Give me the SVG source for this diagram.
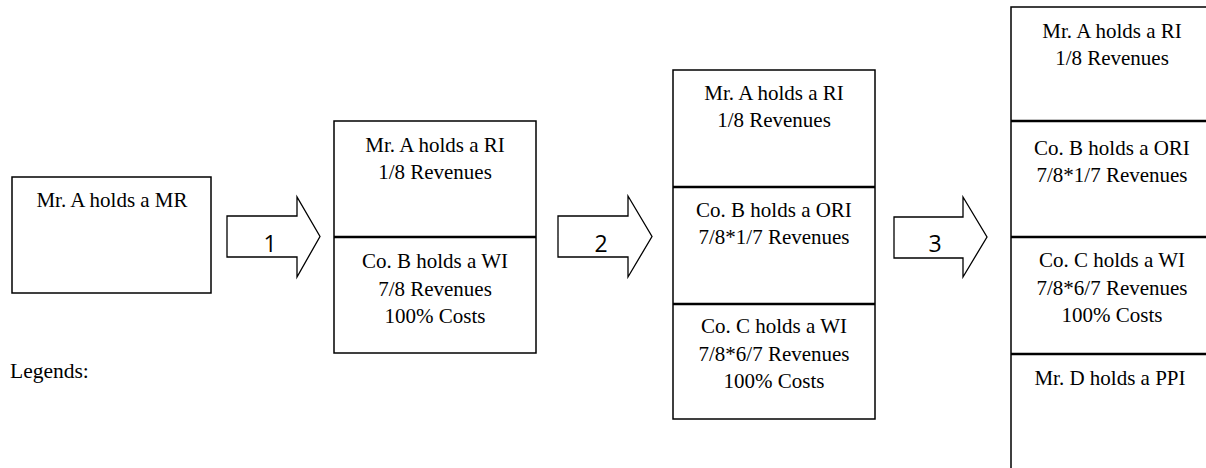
<svg xmlns="http://www.w3.org/2000/svg" width="1206" height="468" viewBox="0 0 1206 468">
  <style>
    .box { fill: #ffffff; stroke: #000000; stroke-width: 1.5; }
    .div { stroke: #000000; stroke-width: 2.5; fill: none; }
    .arrow { fill: #ffffff; stroke: #000000; stroke-width: 1.3; stroke-linejoin: miter; }
    .t { font-size: 21px; fill: #000000; text-anchor: middle; }
    .num { font-size: 23px; fill: #000000; text-anchor: middle; }
    .legend { font-size: 21.5px; fill: #000000; }
  </style>
  <rect width="1206" height="468" fill="#ffffff"/>

  <g font-family="Liberation Serif, DejaVu Serif, serif">
    <!-- Stage 0: mineral rights -->
    <g id="stage0">
      <rect class="box" x="12" y="177" width="199" height="116"/>
      <text class="t" x="112" y="207">Mr. A holds a MR</text>
    </g>

    <!-- Stage 1: royalty + working interest -->
    <g id="stage1">
      <rect class="box" x="334" y="121" width="202" height="232"/>
      <line class="div" x1="334" y1="237" x2="536" y2="237"/>
      <text class="t" x="435" y="152">Mr. A holds a RI</text>
      <text class="t" x="435" y="179">1/8 Revenues</text>
      <text class="t" x="435" y="268">Co. B holds a WI</text>
      <text class="t" x="435" y="296">7/8 Revenues</text>
      <text class="t" x="435" y="323">100% Costs</text>
    </g>

    <!-- Stage 2: royalty + overriding royalty + working interest -->
    <g id="stage2">
      <rect class="box" x="673" y="70" width="202" height="349"/>
      <line class="div" x1="673" y1="187" x2="875" y2="187"/>
      <line class="div" x1="673" y1="304" x2="875" y2="304"/>
      <text class="t" x="774" y="100">Mr. A holds a RI</text>
      <text class="t" x="774" y="127">1/8 Revenues</text>
      <text class="t" x="774" y="217">Co. B holds a ORI</text>
      <text class="t" x="774" y="244">7/8*1/7 Revenues</text>
      <text class="t" x="774" y="333">Co. C holds a WI</text>
      <text class="t" x="774" y="361">7/8*6/7 Revenues</text>
      <text class="t" x="774" y="388">100% Costs</text>
    </g>

    <!-- Stage 3: adds a production payment interest -->
    <g id="stage3">
      <rect class="box" x="1011" y="7" width="204" height="480"/>
      <line class="div" x1="1011" y1="121" x2="1215" y2="121"/>
      <line class="div" x1="1011" y1="237" x2="1215" y2="237"/>
      <line class="div" x1="1011" y1="354" x2="1215" y2="354"/>
      <text class="t" x="1112" y="38">Mr. A holds a RI</text>
      <text class="t" x="1112" y="65">1/8 Revenues</text>
      <text class="t" x="1112" y="155">Co. B holds a ORI</text>
      <text class="t" x="1112" y="182">7/8*1/7 Revenues</text>
      <text class="t" x="1112" y="267">Co. C holds a WI</text>
      <text class="t" x="1112" y="295">7/8*6/7 Revenues</text>
      <text class="t" x="1112" y="322">100% Costs</text>
      <text class="t" x="1110" y="385">Mr. D holds a PPI</text>
    </g>

    <text class="legend" x="10" y="378">Legends:</text>
  </g>

  <!-- Transition arrows -->
  <g id="connectors" font-family="Open Sans, Liberation Sans, sans-serif">
    <g id="step1">
      <path class="arrow" d="M227,216 H297 V197 L320,236.5 L297,277 V257 H227 Z"/>
      <text class="num" x="270" y="252">1</text>
    </g>
    <g id="step2">
      <path class="arrow" d="M558,216 H628 V196 L652,236.5 L628,277 V257 H558 Z"/>
      <text class="num" x="601" y="252">2</text>
    </g>
    <g id="step3">
      <path class="arrow" d="M894,217 H963 V197 L987,237 L963,277 V258 H894 Z"/>
      <text class="num" x="935" y="252">3</text>
    </g>
  </g>
</svg>
